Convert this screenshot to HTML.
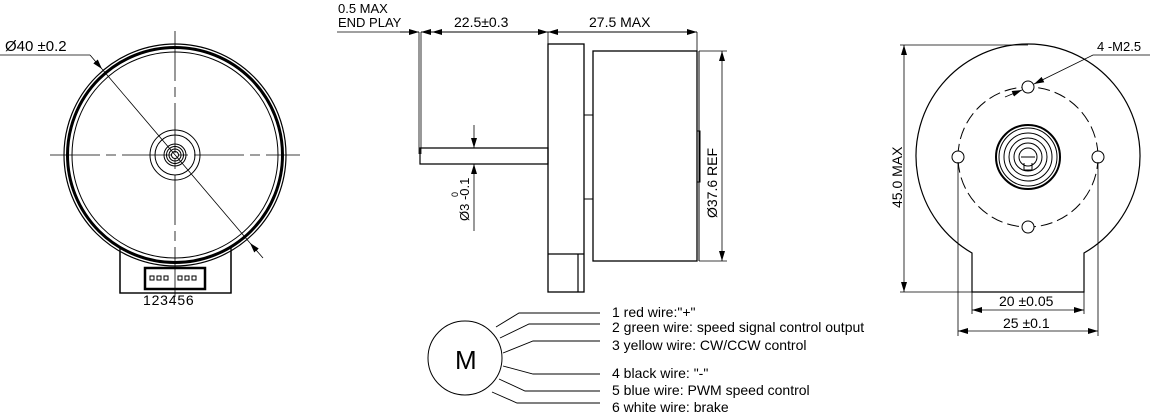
<!DOCTYPE html>
<html><head><style>body{margin:0;background:#fff}svg{display:block}text{font-family:"Liberation Sans",sans-serif;fill:#000}</style></head><body>
<svg width="1155" height="415" viewBox="0 0 1155 415" xmlns="http://www.w3.org/2000/svg">
<defs><marker id="a" viewBox="0 0 10 6" refX="10" refY="3" markerWidth="10" markerHeight="6" orient="auto-start-reverse" markerUnits="userSpaceOnUse"><path d="M0,0L10,3L0,6z" fill="#000"/></marker></defs>
<g fill="none" stroke="#000">
<!-- left view -->
<path d="M120,246 L120,293 L231,293 L231,246" stroke-width="1.3"/>
<circle cx="175" cy="155" r="111" stroke-width="1.2" fill="#fff"/>
<circle cx="175" cy="155" r="107.5" stroke-width="3"/>
<circle cx="175" cy="155" r="103" stroke-width="1"/>
<path d="M120,246 L120,293 L231,293 L231,246" stroke-width="1.3"/>
<rect x="145" y="268" width="60" height="21" stroke-width="2.5"/>
<rect x="150" y="276" width="4" height="4"/><rect x="157" y="276" width="4" height="4"/><rect x="164" y="276" width="4" height="4"/>
<rect x="178" y="276" width="4" height="4"/><rect x="185" y="276" width="4" height="4"/><rect x="192" y="276" width="4" height="4"/>
<circle cx="175" cy="155" r="25"/><circle cx="175" cy="155" r="20"/>
<circle cx="175" cy="155" r="11"/><circle cx="175" cy="155" r="8.5"/><circle cx="175" cy="155" r="6"/><circle cx="175" cy="155" r="3.5"/>
<path d="M50,155H300M175,31V300" stroke-width="0.8" stroke-dasharray="50,6,10,6"/>
<path d="M0,55H90" stroke-width="0.8"/>
<path d="M90,55L102,69" stroke-width="0.8" marker-end="url(#a)"/>
<path d="M102,69L250,243" stroke-width="0.8"/>
<path d="M263,258L250,243" stroke-width="0.8" marker-end="url(#a)"/>
<!-- side view -->
<path d="M400,32H419" marker-end="url(#a)"/>
<path d="M437,32H421" marker-end="url(#a)"/>
<path d="M337,32H419" stroke-width="0.8"/>
<path d="M432,32H548" marker-start="url(#a)" marker-end="url(#a)"/>
<path d="M563,32H548" marker-end="url(#a)"/>
<path d="M548,32H697" marker-end="url(#a)"/>
<path d="M419,32V154M421,32V154M548,32V44M697,32V51" stroke-width="0.8"/>
<path d="M420,148H548V164H420Z" stroke-width="1.2"/>
<rect x="548" y="44" width="36" height="248" stroke-width="1.3"/>
<path d="M548,254H584M578,254V292" stroke-width="1.2"/>
<path d="M584,115H593M584,199H593"/>
<rect x="593" y="51" width="104" height="210" stroke-width="1.3"/>
<path d="M699,51V261" stroke-width="1"/>
<rect x="697" y="131" width="3" height="51"/>
<path d="M699,51H727M699,261H727" stroke-width="0.8"/>
<path d="M722,51V261" stroke-width="0.8" marker-start="url(#a)" marker-end="url(#a)"/>
<path d="M474,125V148" stroke-width="0.8" marker-end="url(#a)"/>
<path d="M474,231V164" stroke-width="0.8" marker-end="url(#a)"/>
<!-- right view -->
<path d="M972,253 A112,112 0 1 1 1084,253 L1084,292 L972,292 Z" stroke-width="1.2"/>
<circle cx="1028" cy="157" r="70" stroke-width="1" stroke-dasharray="12,5"/>
<circle cx="958" cy="157" r="6" fill="#fff"/><circle cx="1098" cy="157" r="6" fill="#fff"/>
<circle cx="1028" cy="87" r="6" fill="#fff"/><circle cx="1028" cy="227" r="6" fill="#fff"/>
<circle cx="1028" cy="157" r="32" stroke-width="2"/><circle cx="1028" cy="157" r="29"/>
<circle cx="1028" cy="157" r="24"/><circle cx="1028" cy="157" r="19"/><circle cx="1028" cy="157" r="14"/><circle cx="1028" cy="157" r="9"/>
<path d="M1021,157H1035M1024,163V170H1032V163"/>
<path d="M900,45H1028M972,292H900" stroke-width="0.8"/>
<path d="M904,45V292" stroke-width="0.8" marker-start="url(#a)" marker-end="url(#a)"/>
<path d="M972,292V314M1084,292V314M958,162V336M1098,162V336" stroke-width="0.8"/>
<path d="M972,310H1084" stroke-width="0.8" marker-start="url(#a)" marker-end="url(#a)"/>
<path d="M958,331H1098" stroke-width="0.8" marker-start="url(#a)" marker-end="url(#a)"/>
<path d="M1150,55H1093L1034,84" stroke-width="0.8" marker-end="url(#a)"/>
<path d="M1005,97L1022,90" stroke-width="0.8" marker-end="url(#a)"/>
<!-- wiring -->
<circle cx="465" cy="358" r="37" stroke-width="1"/>
<path d="M496,327L519,313H600M500,338L529,324H600M503,353L533,341H600M503,366L533,374H600M499,379L525,391H600M492,392L517,403H600" stroke-width="0.9"/>
</g>
<text x="5" y="51" font-size="15">Ø40 ±0.2</text>
<text x="143" y="305" font-size="14" letter-spacing="0.8">123456</text>
<text x="338" y="13" font-size="13">0.5 MAX</text>
<text x="338" y="27" font-size="13">END PLAY</text>
<text x="454" y="27" font-size="14">22.5±0.3</text>
<text x="589" y="27" font-size="14">27.5 MAX</text>
<text transform="translate(717,218) rotate(-90)" font-size="14">Ø37.6 REF</text>
<text transform="translate(469,221) rotate(-90)" font-size="13">Ø3 -0.1</text>
<text transform="translate(458,197) rotate(-90)" font-size="9">0</text>
<text transform="translate(902,208) rotate(-90)" font-size="14">45.0 MAX</text>
<text x="1097" y="51" font-size="13">4 -M2.5</text>
<text x="999" y="306" font-size="14">20 ±0.05</text>
<text x="1003" y="328" font-size="14">25 ±0.1</text>
<text x="455" y="369" font-size="26">M</text>
<g font-size="14"><text x="612" y="317">1 red wire:"+"</text><text x="612" y="332">2 green wire: speed signal control output</text><text x="612" y="350">3 yellow wire: CW/CCW control</text><text x="612" y="378">4 black wire: "-"</text><text x="612" y="395">5 blue wire: PWM speed control</text><text x="612" y="412">6 white wire: brake</text></g>
</svg></body></html>
